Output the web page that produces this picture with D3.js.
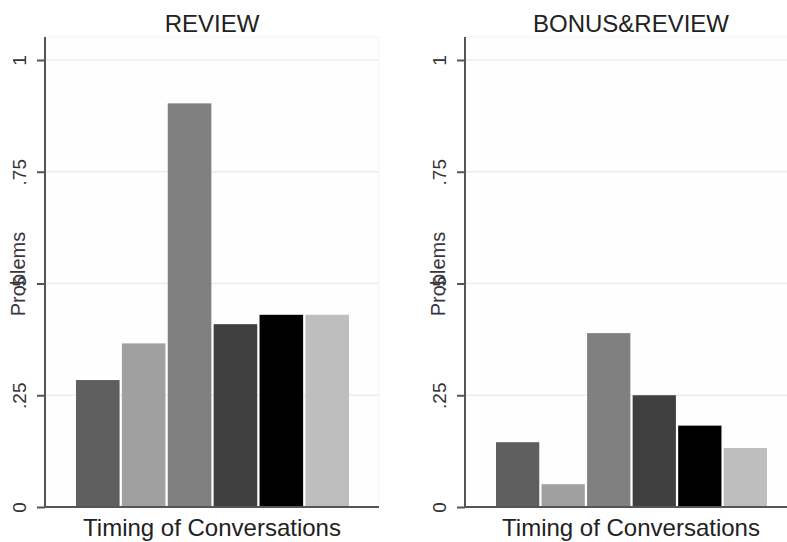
<!DOCTYPE html>
<html>
<head>
<meta charset="utf-8">
<script src="https://cdn.jsdelivr.net/npm/d3@7"></script>
<style>
  html, body { margin: 0; padding: 0; background: #fff; }
  svg { display: block; font-family: Arial, "Liberation Sans", sans-serif; }
</style>
</head>
<body>
<svg id="chart" width="787" height="542"></svg>
<script>
// ---- data ----
const panels = ["REVIEW", "BONUS&REVIEW"];
const categories = ["c1", "c2", "c3", "c4", "c5", "c6"];
const reviewValues = [0.284, 0.366, 0.903, 0.409, 0.430, 0.430];
const bonusReviewValues = [0.145, 0.051, 0.389, 0.250, 0.182, 0.132];
const barColors = ["#5f5f5f", "#a0a0a0", "#808080", "#404040", "#000000", "#bebebe"];
const yTicks = [0, 0.25, 0.5, 0.75, 1];
const yTickLabels = ["0", ".25", ".5", ".75", "1"];
const xAxisTitle = "Timing of Conversations";
const yAxisTitle = "Problems";

const svg = d3.select("#chart");
const layout = [
  { x0: 45, x1: 379, values: reviewValues, title: panels[0] },
  { x0: 465, x1: 797, values: bonusReviewValues, title: panels[1] }
];
const yTop = 37, yBase = 507;
const y = d3.scaleLinear().domain([0, 1]).range([yBase, 60]);

layout.forEach(p => {
  const g = svg.append("g");
  // plot region
  g.append("rect").attr("x", p.x0).attr("y", yTop)
    .attr("width", p.x1 - p.x0).attr("height", yBase - yTop)
    .attr("fill", "#fefefe").attr("stroke", "#f3f3f3").attr("stroke-width", 1);
  // gridlines
  g.selectAll("line.grid").data(yTicks.filter(d => d > 0)).enter()
    .append("line").attr("class", "grid")
    .attr("x1", p.x0).attr("x2", p.x1)
    .attr("y1", d => y(d)).attr("y2", d => y(d))
    .attr("stroke", "#ececec").attr("stroke-width", 1.5);

  const x = d3.scaleBand().domain(categories)
    .range([p.x0 + 31, p.x0 + (p.x1 - p.x0) - 30])
    .paddingInner(0.05).paddingOuter(0);

  g.selectAll("rect.bar").data(p.values).enter()
    .append("rect").attr("class", "bar")
    .attr("x", (d, i) => x(categories[i]))
    .attr("width", x.bandwidth())
    .attr("y", d => y(d))
    .attr("height", d => yBase - y(d))
    .attr("fill", (d, i) => barColors[i]);

  // y axis
  const axis = d3.axisLeft(y).tickValues(yTicks)
    .tickFormat((d, i) => yTickLabels[i]).tickSize(8).tickSizeOuter(0);
  const ag = g.append("g").attr("transform", `translate(${p.x0},0)`).call(axis);
  ag.select(".domain").remove();
  ag.selectAll(".tick line").attr("stroke", "#555").attr("stroke-width", 2);
  ag.selectAll(".tick text")
    .attr("x", null).attr("dy", null)
    .attr("transform", "translate(-19,0) rotate(-90)")
    .attr("text-anchor", "middle")
    .attr("font-size", 19).attr("fill", "#333");
  g.append("line").attr("x1", p.x0).attr("x2", p.x0)
    .attr("y1", yTop).attr("y2", yBase + 1)
    .attr("stroke", "#555").attr("stroke-width", 2);
  // baseline
  g.append("line").attr("x1", p.x0).attr("x2", p.x1)
    .attr("y1", yBase).attr("y2", yBase)
    .attr("stroke", "#555").attr("stroke-width", 2);

  // y title
  g.append("text")
    .attr("transform", `translate(${p.x0 - 20},${274}) rotate(-90)`)
    .attr("text-anchor", "middle").attr("font-size", 20).attr("fill", "#3a3340")
    .text(yAxisTitle);

  // panel title
  const cx = (p.x0 + p.x1) / 2;
  g.append("text").attr("x", cx).attr("y", 32)
    .attr("text-anchor", "middle").attr("font-size", 24).attr("fill", "#222")
    .text(p.title);
  // x title
  g.append("text").attr("x", cx).attr("y", 536)
    .attr("text-anchor", "middle").attr("font-size", 24).attr("fill", "#222")
    .text(xAxisTitle);
});
</script>
</body>
</html>
